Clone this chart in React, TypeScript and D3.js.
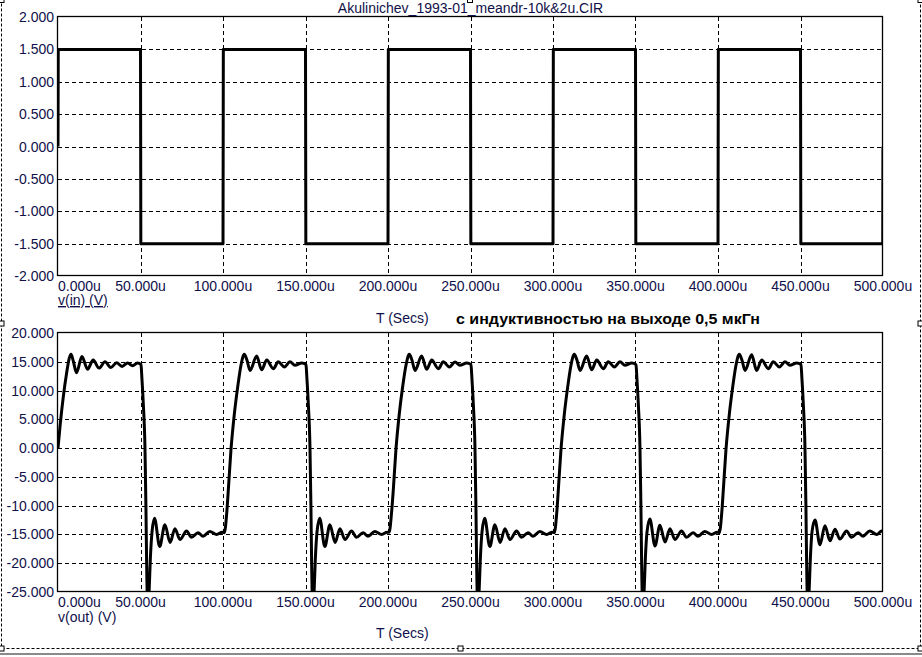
import React from "react";
import * as d3 from "d3";

// ---------- data ----------
const X_TICKS = [0, 50, 100, 150, 200, 250, 300, 350, 400, 450, 500];
const IN_Y_TICKS = [2, 1.5, 1, 0.5, 0, -0.5, -1, -1.5, -2];
const OUT_Y_TICKS = [20, 15, 10, 5, 0, -5, -10, -15, -20, -25];

const TITLE = "Akulinichev_1993-01_meandr-10k&2u.CIR";
const SUBTITLE = "с индуктивностью на выходе 0,5 мкГн";
const IN_LABEL = "v(in) (V)";
const OUT_LABEL = "v(out) (V)";
const T_LABEL = "T (Secs)";

// v(in): square wave breakpoints (time in us, volts)
const inT = [0, 0.15, 50, 50.2, 100, 100.2, 150, 150.2, 200, 200.2, 250, 250.2, 300, 300.2, 350, 350.2, 400, 400.2, 450, 450.2, 499.85, 500];
const inV = [0, 1.5, 1.5, -1.5, -1.5, 1.5, 1.5, -1.5, -1.5, 1.5, 1.5, -1.5, -1.5, 1.5, 1.5, -1.5, -1.5, 1.5, 1.5, -1.5, -1.5, 0];

// v(out): half-period segments, [time us, volts]
const outRise0: [number, number][] = [[0, 0], [1.2, 3.7], [3.2, 8.9], [5.2, 13.0], [6.8, 15.6], [7.9, 16.3], [9.2, 15.2], [11.2, 13.1], [14.5, 15.9], [17.9, 13.7], [21.3, 15.3], [24.9, 13.9], [28.5, 15.0], [32.0, 14.0], [35.5, 14.85], [38.8, 14.2], [42.2, 14.8], [45.2, 14.3], [48.2, 14.8], [50.3, 14.5]];
const outFall50: [number, number][] = [[50.8, 12.4], [51.7, 7.7], [52.7, 0.2], [53.3, -10.3], [53.7, -19.6], [54.2, -26.5], [54.7, -27.5], [55.2, -25.0], [56.0, -19.0], [57.0, -14.5], [58.5, -12.2], [61.6, -17.1], [64.8, -13.3], [67.9, -16.4], [70.9, -14.0], [73.9, -15.9], [77.9, -14.4], [80.9, -15.5], [84.9, -14.7], [87.9, -15.3], [92.0, -14.5], [96.2, -15.0], [99.5, -14.6]];
const outRise100: [number, number][] = [[100.8, -14.7], [102.2, -11.5], [103.2, -7.4], [104.8, -0.4], [106.9, 6.0], [108.9, 10.6], [110.9, 14.4], [112.9, 16.3], [114.5, 15.3], [116.4, 13.5], [120.4, 16.0], [123.4, 13.6], [126.5, 15.3], [130.5, 13.8], [133.5, 15.0], [137.2, 14.1], [140.6, 15.0], [143.6, 14.4], [147.7, 14.8], [150.3, 14.5]];
const outFall150: [number, number][] = [[150.8, 12.4], [151.7, 7.7], [152.7, 0.2], [153.3, -10.3], [153.7, -19.6], [154.2, -26.5], [154.7, -27.5], [155.2, -25.0], [156.0, -19.0], [157.0, -14.5], [158.6, -12.2], [161.7, -17.1], [164.8, -13.3], [167.9, -16.4], [170.9, -14.0], [173.9, -15.9], [177.9, -14.4], [180.9, -15.5], [184.9, -14.7], [187.9, -15.3], [192.0, -14.5], [196.2, -15.0], [199.5, -14.6]];
const outRise200: [number, number][] = [[200.7, -14.6], [202.1, -11.4], [203.2, -7.3], [204.8, -0.3], [206.9, 6.1], [208.9, 10.7], [210.9, 14.4], [212.9, 16.3], [214.5, 15.3], [216.4, 13.5], [220.4, 16.0], [223.4, 13.7], [226.5, 15.3], [230.5, 13.8], [233.5, 15.0], [237.2, 14.1], [240.6, 14.95], [243.6, 14.4], [247.7, 14.8], [250.3, 14.5]];
const outFall250: [number, number][] = [[250.8, 12.4], [251.7, 7.7], [252.7, 0.2], [253.3, -10.3], [253.7, -19.6], [254.2, -26.5], [254.7, -27.5], [255.2, -25.0], [256.0, -19.0], [257.0, -14.5], [258.6, -12.2], [261.7, -17.1], [264.8, -13.3], [267.9, -16.4], [270.9, -14.0], [273.9, -15.9], [277.9, -14.4], [280.9, -15.5], [284.9, -14.7], [287.9, -15.3], [292.0, -14.5], [296.2, -15.0], [299.5, -14.6]];
const outRise300: [number, number][] = [[300.8, -14.7], [302.2, -11.5], [303.2, -7.4], [304.8, -0.4], [306.9, 6.0], [308.9, 10.6], [310.9, 14.4], [312.9, 16.3], [314.5, 15.3], [316.4, 13.5], [320.4, 16.0], [323.4, 13.6], [326.5, 15.3], [330.5, 13.8], [333.5, 15.0], [337.2, 14.1], [340.6, 15.0], [343.6, 14.4], [347.7, 14.8], [350.3, 14.5]];
const outFall350: [number, number][] = [[350.8, 12.4], [351.7, 7.7], [352.7, 0.2], [353.3, -10.3], [353.7, -19.6], [354.2, -26.5], [354.7, -27.5], [355.2, -25.0], [356.0, -19.0], [357.0, -14.5], [358.7, -12.3], [361.8, -17.0], [364.8, -13.4], [367.9, -16.3], [370.9, -14.0], [373.9, -15.9], [377.9, -14.4], [380.9, -15.5], [384.9, -14.7], [387.9, -15.3], [392.0, -14.5], [396.2, -15.0], [399.5, -14.6]];
const outRise400: [number, number][] = [[400.8, -14.7], [402.2, -11.5], [403.2, -7.4], [404.8, -0.4], [406.9, 6.0], [408.9, 10.6], [410.9, 14.4], [412.9, 16.3], [414.5, 15.3], [416.4, 13.5], [420.4, 16.2], [423.4, 13.5], [426.5, 15.3], [430.5, 13.8], [433.5, 15.0], [437.2, 14.1], [440.6, 15.0], [443.6, 14.4], [447.7, 14.8], [450.3, 14.5]];
const outFall450: [number, number][] = [[450.8, 12.4], [451.7, 7.7], [452.7, 0.2], [453.3, -10.3], [453.7, -19.6], [454.2, -26.5], [454.7, -27.5], [455.2, -25.0], [456.0, -19.0], [457.0, -14.5], [458.8, -12.5], [461.8, -16.8], [464.8, -13.5], [467.9, -16.1], [470.9, -14.1], [473.9, -15.8], [477.9, -14.4], [480.9, -15.5], [484.9, -14.7], [487.9, -15.3], [492.0, -14.4], [496.2, -15.0], [499.2, -14.4], [500, -14.5]];

const outSegments = [outRise0, outFall50, outRise100, outFall150, outRise200, outFall250, outRise300, outFall350, outRise400, outFall450];

// ---------- layout ----------
const W = 922;
const H = 657;
const PL = 58;
const PR = 883;
const TOP1 = 17;
const BOT1 = 276;
const TOP2 = 333;
const BOT2 = 592;

const FONT = "'Liberation Sans', Arial, sans-serif";
const LABEL_COLOR = "#10104a";
const FS = 14;

const fmtX = (v: number) => `${v.toFixed(3)}u`;
const fmtY = (v: number) => v.toFixed(3);
const px = (v: number) => Math.round(v) + 0.5;

function inPath(x: d3.ScaleLinear<number, number>, y: d3.ScaleLinear<number, number>) {
  const pts: [number, number][] = inT.map((t, i) => [t, inV[i]]);
  return d3.line<[number, number]>().x((d) => x(d[0])).y((d) => y(d[1]))(pts) || "";
}

function outPath(x: d3.ScaleLinear<number, number>, y: d3.ScaleLinear<number, number>) {
  const pts = outSegments.flat();
  return d3.line<[number, number]>().x((d) => x(d[0])).y((d) => y(d[1])).curve(d3.curveMonotoneX)(pts) || "";
}

function Panel({ top, bottom, yDomain, yTicks, line, clipId }: {
  top: number; bottom: number; yDomain: [number, number]; yTicks: number[]; line: string; clipId: string;
}) {
  const x = d3.scaleLinear().domain([0, 500]).range([PL, PR]);
  const y = d3.scaleLinear().domain(yDomain).range([bottom, top]);
  return (
    <g>
      <defs>
        <clipPath id={clipId}>
          <rect x={PL} y={top} width={PR - PL} height={bottom - top} />
        </clipPath>
      </defs>
      {X_TICKS.filter((t) => t !== 0 && t !== 500).map((t) => (
        <line key={"gx" + t} x1={px(x(t))} x2={px(x(t))} y1={top} y2={bottom} stroke="#000" strokeWidth={1} strokeDasharray="4,3" />
      ))}
      {yTicks.filter((t) => t !== yDomain[0] && t !== yDomain[1]).map((t) => (
        <line key={"gy" + t} x1={PL} x2={PR} y1={px(y(t))} y2={px(y(t))} stroke="#000" strokeWidth={1} strokeDasharray="4,3" />
      ))}
      <rect x={px(PL) - 1} y={px(top) - 1} width={Math.round(PR - PL)} height={Math.round(bottom - top)} fill="none" stroke="#000" strokeWidth={1.3} />
      <path d={line === "in" ? inPath(x, y) : outPath(x, y)} fill="none" stroke="#000" strokeWidth={3} strokeLinejoin="round" clipPath={`url(#${clipId})`} />
      {yTicks.map((t) => (
        <text key={"ly" + t} x={54} y={y(t)} dy="0.36em" textAnchor="end" fontFamily={FONT} fontSize={FS} fill={LABEL_COLOR}>{fmtY(t)}</text>
      ))}
      {X_TICKS.map((t, i) => (
        <text key={"lx" + t} x={i === 0 ? PL : x(t)} y={bottom + 14.5} textAnchor={i === 0 ? "start" : "middle"} fontFamily={FONT} fontSize={FS} fill={LABEL_COLOR}>{fmtX(t)}</text>
      ))}
    </g>
  );
}

function Handle({ cx, cy }: { cx: number; cy: number }) {
  return <rect x={cx - 2.5} y={cy - 2.5} width={5} height={5} fill="#fff" stroke="#000" strokeWidth={1} />;
}

export default function App() {
  const bx0 = 1.5, bx1 = 920.5, by0 = -1.5, by1 = 648.5;
  return (
    <svg width={W} height={H} viewBox={`0 0 ${W} ${H}`} style={{ position: "absolute", left: 0, top: 0, background: "#fff" }}>
      <rect x={0} y={0} width={W} height={H} fill="#fff" />
      <rect x={bx0} y={by0} width={bx1 - bx0} height={by1 - by0} fill="none" stroke="#000" strokeWidth={1} strokeDasharray="3,2" />
      <rect x={0} y={653} width={W} height={2} fill="#8a8a8a" />

      <Panel top={TOP1} bottom={BOT1} yDomain={[-2, 2]} yTicks={IN_Y_TICKS} line="in" clipId="clip1" />
      <Panel top={TOP2} bottom={BOT2} yDomain={[-25, 20]} yTicks={OUT_Y_TICKS} line="out" clipId="clip2" />

      <text x={470.5} y={12.5} textAnchor="middle" fontFamily={FONT} fontSize={FS} fill={LABEL_COLOR}>{TITLE}</text>
      <text x={PL} y={305} fontFamily={FONT} fontSize={FS} fill={LABEL_COLOR} style={{ textDecoration: "underline" }}>{IN_LABEL}</text>
      <text x={376} y={323} fontFamily={FONT} fontSize={FS} fill={LABEL_COLOR}>{T_LABEL}</text>
      <text x={456} y={324} fontFamily={FONT} fontSize={15} fontWeight="bold" fill="#000" textLength={304} lengthAdjust="spacingAndGlyphs">{SUBTITLE}</text>
      <text x={PL} y={622} fontFamily={FONT} fontSize={FS} fill={LABEL_COLOR}>{OUT_LABEL}</text>
      <text x={376} y={638} fontFamily={FONT} fontSize={FS} fill={LABEL_COLOR}>{T_LABEL}</text>

      <Handle cx={bx0} cy={0} />
      <Handle cx={470} cy={0} />
      <Handle cx={bx1} cy={0} />
      <Handle cx={bx0} cy={323.5} />
      <Handle cx={bx1} cy={323.5} />
      <Handle cx={bx0} cy={by1} />
      <Handle cx={460.5} cy={by1} />
      <Handle cx={bx1} cy={by1} />
    </svg>
  );
}
